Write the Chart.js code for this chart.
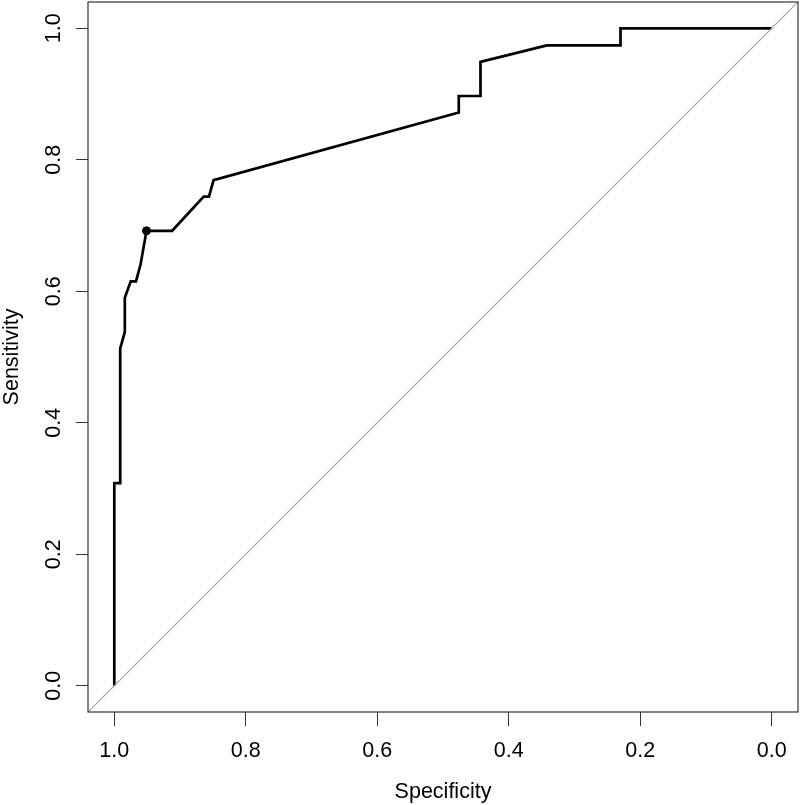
<!DOCTYPE html>
<html>
<head>
<meta charset="utf-8">
<script src="https://cdn.jsdelivr.net/npm/chart.js@4/dist/chart.umd.min.js"></script>
<style>
  body { margin: 0; background: #fff; }
</style>
</head>
<body>
<canvas id="roc" width="800" height="805"></canvas>
<script>
// ROC curve
const specificity = [1.000, 1.000, 0.991, 0.991, 0.984, 0.984, 0.975, 0.967, 0.960, 0.951, 0.912, 0.864, 0.856, 0.849, 0.476, 0.476, 0.443, 0.443, 0.342, 0.230, 0.230, 0.000];
const sensitivity = [0.000, 0.308, 0.308, 0.513, 0.538, 0.590, 0.615, 0.615, 0.641, 0.692, 0.692, 0.744, 0.744, 0.769, 0.872, 0.897, 0.897, 0.949, 0.974, 0.974, 1.000, 1.000];

// best threshold point
const bestSpec = [0.951];
const bestSens = [0.692];

// chance line, drawn across the whole plot region
const diagSpec = [1.04, -0.04];
const diagSens = [-0.04, 1.04];

const tickValues = [0, 0.2, 0.4, 0.6, 0.8, 1.0];
const xTitle = 'Specificity';
const yTitle = 'Sensitivity';

const fontFamily = '"Liberation Sans", Arial, Helvetica, sans-serif';
const fontSize = 21.5;

const toPoints = (xs, ys) => xs.map((x, i) => ({ x: x, y: ys[i] }));
const setTicks = scale => { scale.ticks = tickValues.map(v => ({ value: v })); };

// box, y tick labels and axis titles, R style
const rFrame = {
  id: 'rFrame',
  afterDraw(chart) {
    const ctx = chart.ctx;
    const a = chart.chartArea;
    const ys = chart.scales.y;
    ctx.save();
    ctx.strokeStyle = '#333';
    ctx.lineWidth = 1.2;
    ctx.strokeRect(a.left, a.top, a.right - a.left, a.bottom - a.top);

    ctx.fillStyle = '#000';
    ctx.font = fontSize + 'px ' + fontFamily;
    ctx.textAlign = 'center';
    ctx.textBaseline = 'alphabetic';
    tickValues.forEach(v => {
      ctx.save();
      ctx.translate(60, ys.getPixelForValue(v));
      ctx.rotate(-Math.PI / 2);
      ctx.fillText(v.toFixed(1), 0, 0);
      ctx.restore();
    });

    ctx.save();
    ctx.translate(18, (a.top + a.bottom) / 2);
    ctx.rotate(-Math.PI / 2);
    ctx.fillText(yTitle, 0, 0);
    ctx.restore();

    ctx.fillText(xTitle, (a.left + a.right) / 2, 798);
    ctx.restore();
  }
};

new Chart(document.getElementById('roc'), {
  type: 'scatter',
  data: {
    datasets: [
      {
        label: 'chance',
        data: toPoints(diagSpec, diagSens),
        showLine: true,
        borderColor: '#a6a6a6',
        borderWidth: 1.2,
        pointRadius: 0
      },
      {
        label: 'roc',
        data: toPoints(specificity, sensitivity),
        showLine: true,
        borderColor: '#000',
        borderWidth: 2.7,
        pointRadius: 0,
        tension: 0
      },
      {
        label: 'best',
        data: toPoints(bestSpec, bestSens),
        showLine: false,
        backgroundColor: '#000',
        borderColor: '#000',
        pointRadius: 4
      }
    ]
  },
  options: {
    responsive: false,
    animation: false,
    devicePixelRatio: 1,
    layout: { autoPadding: false, padding: { top: 2, right: 2, left: 0, bottom: 0 } },
    plugins: {
      legend: { display: false },
      tooltip: { enabled: false }
    },
    scales: {
      x: {
        type: 'linear',
        reverse: true,
        min: -0.04,
        max: 1.04,
        afterBuildTicks: setTicks,
        afterFit: s => { s.height = 93; },
        border: { display: false },
        grid: { drawOnChartArea: false, drawTicks: true, tickLength: 14, color: '#333' },
        ticks: {
          autoSkip: false,
          maxRotation: 0,
          padding: 12,
          color: '#000',
          font: { family: fontFamily, size: fontSize },
          callback: v => v.toFixed(1)
        }
      },
      y: {
        type: 'linear',
        min: -0.04,
        max: 1.04,
        afterBuildTicks: setTicks,
        afterFit: s => { s.width = 88; },
        border: { display: false },
        grid: { drawOnChartArea: false, drawTicks: true, tickLength: 12, color: '#333' },
        ticks: { display: false }
      }
    }
  },
  plugins: [rFrame]
});
</script>
</body>
</html>
